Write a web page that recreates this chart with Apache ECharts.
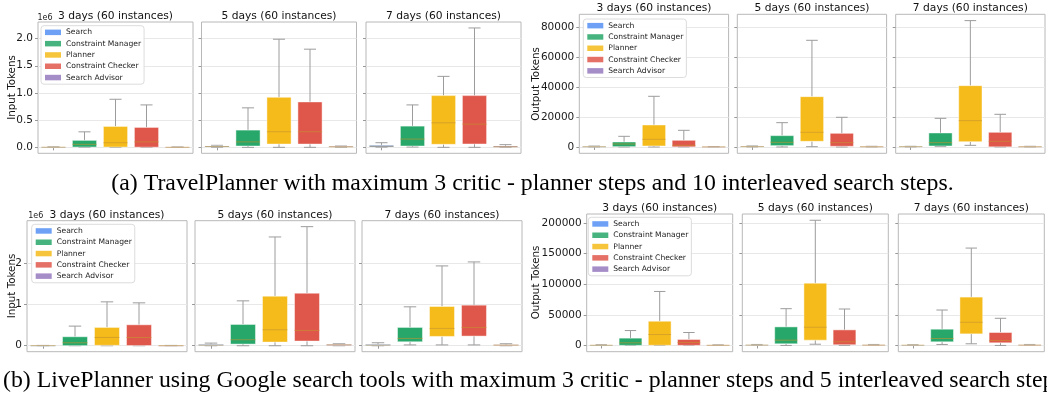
<!DOCTYPE html>
<html>
<head>
<meta charset="utf-8">
<title>Token usage per agent</title>
<script src="https://cdn.jsdelivr.net/npm/echarts@6/dist/echarts.min.js"></script>
<style>
  html, body { margin: 0; padding: 0; background: #fff; }
  #chart { width: 1047px; height: 395px; }
</style>
</head>
<body>
<div id="chart"></div>
<script>
// ---- categories and labels ----
const agents = ['Search', 'Constraint Manager', 'Planner', 'Constraint Checker', 'Search Advisor'];
const panelTitles = ['3 days (60 instances)', '5 days (60 instances)', '7 days (60 instances)'];
const inputAxisName = 'Input Tokens';
const outputAxisName = 'Output Tokens';
const captionA = '(a) TravelPlanner with maximum 3 critic - planner steps and 10 interleaved search steps.';
const captionB = '(b) LivePlanner using Google search tools with maximum 3 critic - planner steps and 5 interleaved search steps.';

// ---- tick values per figure group ----
const travelInputTicks = [0, 500000, 1000000, 1500000, 2000000];
const travelOutputTicks = [0, 20000, 40000, 60000, 80000];
const liveInputTicks = [0, 1000000, 2000000];
const liveOutputTicks = [0, 50000, 100000, 150000, 200000];

// ---- box statistics per agent: [min, q1, median, q3, max] ----
const travelInput3d = [
  [0, 0, 2000, 5000, 9000],
  [0, 5000, 55000, 128000, 285000],
  [0, 5000, 85000, 384000, 884000],
  [0, 3000, 100000, 366000, 780000],
  [0, 0, 1000, 3000, 6000]
];
const travelInput5d = [
  [0, 8000, 15000, 24000, 37000],
  [0, 24000, 100000, 317000, 726000],
  [0, 60000, 287000, 920000, 1988000],
  [0, 60000, 287000, 835000, 1805000],
  [0, 5000, 10000, 20000, 25000]
];
const travelInput7d = [
  [0, 6000, 20000, 37000, 85000],
  [6000, 24000, 152000, 390000, 780000],
  [0, 55000, 451000, 951000, 1305000],
  [0, 61000, 427000, 951000, 2195000],
  [0, 4000, 10000, 25000, 49000]
];
const travelOutput3d = [
  [0, 50, 150, 300, 600],
  [0, 220, 2000, 3350, 7150],
  [0, 670, 5140, 14750, 33970],
  [0, 100, 1100, 4470, 11170],
  [0, 20, 60, 150, 300]
];
const travelOutput5d = [
  [0, 100, 250, 450, 700],
  [0, 900, 3130, 7600, 16300],
  [200, 3800, 9830, 33740, 71500],
  [0, 450, 2900, 9160, 19900],
  [0, 50, 150, 300, 450]
];
const travelOutput7d = [
  [0, 80, 200, 350, 450],
  [300, 670, 2900, 9390, 19200],
  [1100, 3580, 17650, 41100, 84700],
  [0, 100, 3800, 9830, 21900],
  [0, 50, 150, 300, 450]
];
const liveInput3d = [
  [0, 0, 2000, 4000, 8000],
  [0, 3000, 72000, 217000, 474000],
  [0, 10000, 200000, 442000, 1060000],
  [0, 5000, 200000, 506000, 1036000],
  [0, 0, 2000, 4000, 8000]
];
const liveInput5d = [
  [0, 5000, 15000, 32000, 64000],
  [0, 40000, 145000, 514000, 1084000],
  [0, 88000, 386000, 1197000, 2627000],
  [0, 112000, 370000, 1269000, 2876000],
  [0, 5000, 20000, 32000, 48000]
];
const liveInput7d = [
  [0, 5000, 15000, 32000, 72000],
  [20000, 96000, 177000, 442000, 940000],
  [20000, 225000, 418000, 948000, 1928000],
  [20000, 233000, 442000, 980000, 2024000],
  [0, 5000, 15000, 24000, 48000]
];
const liveOutput3d = [
  [0, 100, 300, 600, 1200],
  [0, 200, 4300, 11900, 24300],
  [0, 300, 17800, 39500, 88100],
  [0, 200, 4860, 9730, 21100],
  [0, 100, 300, 600, 1000]
];
const liveOutput5d = [
  [0, 200, 500, 900, 1600],
  [0, 2700, 8650, 30270, 60000],
  [2000, 8650, 29700, 101600, 204300],
  [0, 1100, 5950, 25400, 59460],
  [0, 200, 500, 900, 1600]
];
const liveOutput7d = [
  [0, 100, 400, 700, 1200],
  [1600, 5950, 11350, 26500, 57800],
  [2700, 18900, 37800, 78900, 158900],
  [0, 4300, 8100, 21100, 44300],
  [0, 200, 500, 900, 1600]
];

// ---- styling ----
const agentColors = ['#5591F5', '#27A769', '#F5BB1A', '#DF574B', '#9579BE'];
const SANS = 'DejaVu Sans';
const SERIF = 'Liberation Serif';
const whiskerColor = '#9c9c9c';
const medianColor = 'rgba(196,146,48,0.6)';

// figure groups: each is three panels sharing one y scale
const groups = [
  { panels: [travelInput3d, travelInput5d, travelInput7d], ticks: travelInputTicks,
    fmt: v => (v / 1e6).toFixed(1), offsetText: '1e6', offsetPos: [45, 17.5],
    axisName: inputAxisName, namePos: [12, 87.5],
    lefts: [38, 201.5, 366], top: 22, width: 155, height: 131.3,
    legend: { left: 41, top: 25.7 } },
  { panels: [travelOutput3d, travelOutput5d, travelOutput7d], ticks: travelOutputTicks,
    fmt: v => String(Math.round(v)), offsetText: null,
    axisName: outputAxisName, namePos: [536, 84],
    lefts: [579.3, 737.3, 895.7], top: 14.3, width: 149.3, height: 139,
    legend: { left: 583.3, top: 19 } },
  { panels: [liveInput3d, liveInput5d, liveInput7d], ticks: liveInputTicks,
    fmt: v => (v / 1e6).toFixed(0), offsetText: '1e6', offsetPos: [35.7, 216.3],
    axisName: inputAxisName, namePos: [12, 286],
    lefts: [27, 195, 362], top: 220.7, width: 160, height: 131,
    legend: { left: 31.7, top: 224.3 } },
  { panels: [liveOutput3d, liveOutput5d, liveOutput7d], ticks: liveOutputTicks,
    fmt: v => String(Math.round(v)), offsetText: null,
    axisName: outputAxisName, namePos: [536, 282.5],
    lefts: [586.7, 742.3, 898.3], top: 214, width: 146, height: 137.7,
    legend: { left: 588.3, top: 217.3 } }
];

function renderBox(color) {
  return function (params, api) {
    const x = api.value(0);
    const lo = api.value(1), q1 = api.value(2), med = api.value(3), q3 = api.value(4), hi = api.value(5);
    const band = api.size([1, 0])[0];
    const bw = band * 0.78;
    const cw = bw * 0.5;
    const cx = api.coord([x, med])[0];
    const yLo = api.coord([x, lo])[1];
    const yQ1 = api.coord([x, q1])[1];
    const yMed = api.coord([x, med])[1];
    const yQ3 = api.coord([x, q3])[1];
    const yHi = api.coord([x, hi])[1];
    const ws = { stroke: whiskerColor, lineWidth: 1 };
    return {
      type: 'group',
      children: [
        { type: 'line', shape: { x1: cx, y1: yQ3, x2: cx, y2: yHi }, style: ws },
        { type: 'line', shape: { x1: cx, y1: yQ1, x2: cx, y2: yLo }, style: ws },
        { type: 'line', shape: { x1: cx - cw / 2, y1: yHi, x2: cx + cw / 2, y2: yHi }, style: ws },
        { type: 'line', shape: { x1: cx - cw / 2, y1: yLo, x2: cx + cw / 2, y2: yLo }, style: ws },
        { type: 'rect', shape: { x: cx - bw / 2, y: yQ3, width: bw, height: Math.max(yQ1 - yQ3, 0.6) },
          style: { fill: color, stroke: 'rgba(255,255,255,0.45)', lineWidth: 1 } },
        { type: 'line', shape: { x1: cx - bw / 2, y1: yMed, x2: cx + bw / 2, y2: yMed },
          style: { stroke: medianColor, lineWidth: 1 } }
      ]
    };
  };
}

const grid = [], xAxis = [], yAxis = [], series = [], legend = [], graphic = [];

groups.forEach((g, gi) => {
  // shared y extent with 5% padding on each side
  let dMin = Infinity, dMax = -Infinity;
  g.panels.forEach(p => p.forEach(s => { dMin = Math.min(dMin, s[0]); dMax = Math.max(dMax, s[4]); }));
  const pad = (dMax - dMin) * 0.05;
  const yMin = dMin - pad, yMax = dMax + pad;
  const step = g.ticks[1] - g.ticks[0];

  g.panels.forEach((p, pi) => {
    const idx = grid.length;
    const left = g.lefts[pi];
    grid.push({
      left: left, top: g.top, width: g.width, height: g.height,
      show: true, borderColor: '#b8b8b8', borderWidth: 1, backgroundColor: '#fff', containLabel: false
    });
    xAxis.push({
      type: 'category', gridIndex: idx, data: agents,
      axisLine: { show: false },
      axisTick: { show: true, alignWithLabel: true, length: 3, lineStyle: { color: '#999', width: 1 } },
      axisLabel: { show: false },
      splitLine: { show: false }
    });
    yAxis.push({
      type: 'value', gridIndex: idx, min: yMin, max: yMax,
      minInterval: step, maxInterval: step,
      axisLine: { show: false },
      axisTick: { show: true, length: 3, lineStyle: { color: '#999', width: 1 }, customValues: g.ticks },
      axisLabel: {
        show: pi === 0, margin: 5, fontFamily: SANS, fontSize: 10.5, color: '#1a1a1a',
        customValues: g.ticks,
        formatter: v => (g.ticks.some(t => Math.abs(t - v) < step * 1e-6) ? g.fmt(v) : '')
      },
      splitLine: { show: true, lineStyle: { color: '#e8e8e8', width: 1 } }
    });
    p.forEach((stats, ai) => {
      series.push({
        type: 'custom', name: agents[ai], xAxisIndex: idx, yAxisIndex: idx,
        itemStyle: { color: agentColors[ai] },
        data: [[ai].concat(stats)],
        encode: { x: 0, y: [1, 2, 3, 4, 5] },
        renderItem: renderBox(agentColors[ai]),
        silent: true
      });
    });
    // panel title
    graphic.push({
      type: 'text', x: left + g.width / 2, y: g.top - 5.8, silent: true,
      style: { text: panelTitles[pi], font: '10.7px "' + SANS + '"', fill: '#111', align: 'center', verticalAlign: 'middle' }
    });
  });

  // y axis title
  graphic.push({
    type: 'text', x: g.namePos[0], y: g.namePos[1], rotation: Math.PI / 2, silent: true,
    style: { text: g.axisName, font: '10.3px "' + SANS + '"', fill: '#111', align: 'center', verticalAlign: 'middle' }
  });
  // scientific offset text
  if (g.offsetText) {
    graphic.push({
      type: 'text', x: g.offsetPos[0], y: g.offsetPos[1], silent: true,
      style: { text: g.offsetText, font: '8px "' + SANS + '"', fill: '#222', align: 'center', verticalAlign: 'middle' }
    });
  }
  legend.push({
    data: agents, orient: 'vertical', left: g.legend.left, top: g.legend.top,
    icon: 'rect', itemWidth: 16, itemHeight: 5.5, itemGap: 2,
    padding: [2, 3, 2, 4],
    backgroundColor: 'rgba(255,255,255,0.9)', borderColor: '#dcdcdc', borderWidth: 1, borderRadius: 3,
    itemStyle: { opacity: 0.85, borderWidth: 0 },
    textStyle: { fontFamily: SANS, fontSize: 7.6, color: '#222', lineHeight: 9.3, padding: [0, 0, 0, 0] },
    selectedMode: false
  });
});

// figure captions
graphic.push({
  type: 'text', x: 532.5, y: 184, silent: true,
  style: { text: captionA, font: '23.8px "' + SERIF + '"', fill: '#000', align: 'center', verticalAlign: 'middle' }
});
graphic.push({
  type: 'text', x: 3, y: 381, silent: true,
  style: { text: captionB, font: '23.8px "' + SERIF + '"', fill: '#000', align: 'left', verticalAlign: 'middle' }
});

const chart = echarts.init(document.getElementById('chart'), null, { renderer: 'canvas' });
chart.setOption({
  animation: false,
  backgroundColor: '#fff',
  grid, xAxis, yAxis, series, legend, graphic
});
</script>
</body>
</html>
